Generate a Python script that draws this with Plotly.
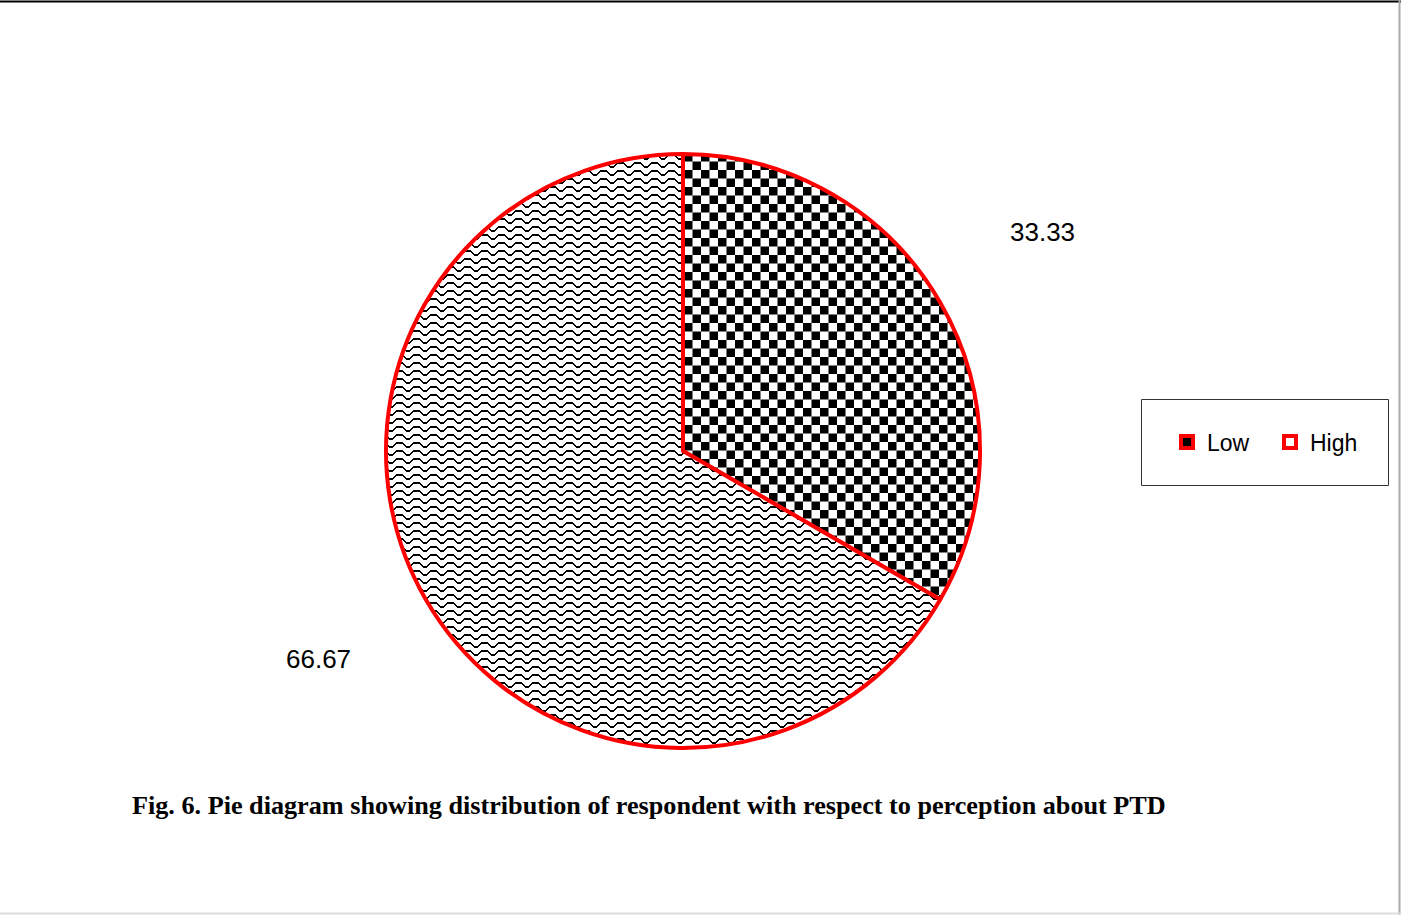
import plotly.graph_objects as go

# Perception about PTD: share of respondents (%)
categories = ["Low", "High"]
values = [33.33, 66.67]
caption = "Fig. 6. Pie diagram showing distribution of respondent with respect to perception about PTD"

W, H = 1401, 915
cx, cy, r = 683, 451, 297  # pie centre and radius in pixels

fig = go.Figure()
fig.add_trace(go.Pie(
    labels=categories,
    values=values,
    sort=False,
    direction="clockwise",
    rotation=0,
    textinfo="none",
    hoverinfo="label+value",
    domain=dict(x=[(cx - r) / W, (cx + r) / W], y=[(H - cy - r) / H, (H - cy + r) / H]),
    marker=dict(
        colors=["black", "white"],
        line=dict(color="#ff0000", width=4),
    ),
))

# value labels placed outside the slices
label_pos = [(1042, 232), (318, 659)]
for v, (px, py) in zip(values, label_pos):
    fig.add_annotation(
        x=px / W, y=1 - py / H, xref="paper", yref="paper",
        xanchor="center", yanchor="middle",
        text=f"{v:.2f}", showarrow=False,
        font=dict(family="Liberation Sans, Arial", size=26, color="black"),
    )

fig.add_annotation(
    x=130 / W, y=1 - 805 / H, xref="paper", yref="paper",
    xanchor="left", yanchor="middle",
    text=f"<b>{caption}</b>", showarrow=False,
    font=dict(family="Liberation Serif, Times New Roman", size=26.2, color="black"),
)

# legend frame and outer border lines
shapes = [
    dict(type="rect", xref="paper", yref="paper",
         x0=1141.5 / W, x1=1388.5 / W, y0=1 - 485.5 / H, y1=1 - 399.5 / H,
         line=dict(color="#333333", width=1)),
    dict(type="line", xref="paper", yref="paper",
         x0=0, x1=1, y0=1 - 1.5 / H, y1=1 - 1.5 / H, line=dict(color="black", width=2)),
    dict(type="line", xref="paper", yref="paper",
         x0=1399.5 / W, x1=1399.5 / W, y0=0, y1=1, line=dict(color="#aaaaaa", width=2)),
    dict(type="line", xref="paper", yref="paper",
         x0=0, x1=1, y0=1 - 913.5 / H, y1=1 - 913.5 / H, line=dict(color="#dddddd", width=2)),
]

fig.update_layout(
    width=W, height=H,
    margin=dict(l=0, r=0, t=0, b=0),
    paper_bgcolor="white",
    plot_bgcolor="white",
    shapes=shapes,
    showlegend=True,
    legend=dict(
        orientation="h",
        x=1167 / W, y=1 - 442 / H, xanchor="left", yanchor="middle",
        bgcolor="rgba(0,0,0,0)",
        font=dict(family="Liberation Sans, Arial", size=23, color="black"),
        itemwidth=30,
        entrywidth=58,
        traceorder="normal",
    ),
)

# Hatch fills for the slices: a checkerboard for "Low" and a wave for "High".
hatch_js = """
var gd = document.getElementById('{plot_id}');
var NS = 'http://www.w3.org/2000/svg';
function el(tag, attrs) {
  var e = document.createElementNS(NS, tag);
  for (var k in attrs) e.setAttribute(k, attrs[k]);
  return e;
}
function hatch() {
  var svg = gd.querySelector('svg.main-svg');
  if (!svg) return;
  var old = svg.querySelector('#hatch-defs');
  if (old) old.parentNode.removeChild(old);
  var defs = el('defs', {id: 'hatch-defs'});

  var chk = el('pattern', {id: 'hatch-check', width: 17, height: 17, x: 684, y: 0,
                           patternUnits: 'userSpaceOnUse'});
  chk.appendChild(el('rect', {x: 0, y: 0, width: 17, height: 17, fill: 'white'}));
  chk.appendChild(el('rect', {x: 0, y: 0, width: 8.5, height: 8.5, fill: 'black'}));
  chk.appendChild(el('rect', {x: 8.5, y: 8.5, width: 8.5, height: 8.5, fill: 'black'}));
  defs.appendChild(chk);

  var wav = el('pattern', {id: 'hatch-wave', width: 17, height: 8, x: 0, y: 0,
                           patternUnits: 'userSpaceOnUse'});
  wav.appendChild(el('rect', {x: 0, y: 0, width: 17, height: 8, fill: 'white'}));
  wav.appendChild(el('path', {d: 'M-2,6.5H2L6,2.5H11L15,6.5H19', fill: 'none',
                              stroke: 'black', 'stroke-width': 2,
                              'shape-rendering': 'crispEdges'}));
  defs.appendChild(wav);
  svg.insertBefore(defs, svg.firstChild);

  var fills = ['url(#hatch-check)', 'url(#hatch-wave)'];
  var slices = gd.querySelectorAll('g.slice path.surface');
  for (var i = 0; i < slices.length; i++) {
    slices[i].style.fill = fills[i % 2];
  }
  var syms = gd.querySelectorAll('g.legendpoints path');
  var symFill = ['black', 'white'];
  for (var j = 0; j < syms.length; j++) {
    syms[j].style.fill = symFill[j % 2];
    syms[j].style.strokeWidth = '4px';
  }
}
hatch();
gd.on('plotly_afterplot', hatch);
"""

fig.write_html("out.html", post_script=hatch_js)
